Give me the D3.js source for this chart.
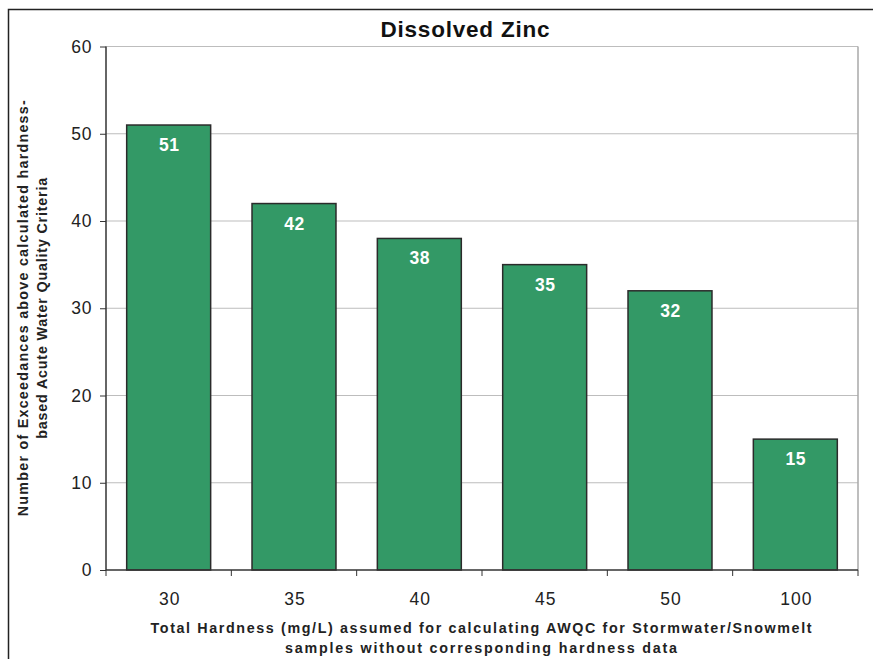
<!DOCTYPE html>
<html>
<head>
<meta charset="utf-8">
<script src="https://cdn.jsdelivr.net/npm/d3@7/dist/d3.min.js"></script>
<style>
  html, body { margin: 0; padding: 0; background: #fff; }
  svg { display: block; font-family: Arial, "Liberation Sans", sans-serif; }
</style>
</head>
<body>
<svg id="chart" width="873" height="659"></svg>
<script>
// Hardness values assumed (mg/L) and the resulting exceedance counts
const hardness = ["30", "35", "40", "45", "50", "100"];
const exceedances = [51, 42, 38, 35, 32, 15];
const yTicks = [0, 10, 20, 30, 40, 50, 60];

const titleText = "Dissolved Zinc";
const yTitleLines = ["Number of Exceedances above calculated hardness-", "based Acute Water Quality Criteria"];
const xTitleLines = ["Total Hardness (mg/L) assumed for calculating AWQC for Stormwater/Snowmelt", "samples without corresponding hardness data"];

const svg = d3.select("#chart");
const W = 873, H = 659;
const plot = { left: 106, top: 46.5, right: 858, bottom: 570 };

// outer frame
svg.append("rect")
  .attr("x", 8.5).attr("y", 9.5)
  .attr("width", W).attr("height", H)
  .attr("fill", "none").attr("stroke", "#222").attr("stroke-width", 1.5);

const x = d3.scaleBand()
  .domain(hardness)
  .range([plot.left, plot.right])
  .paddingInner(0.33)
  .paddingOuter(0.165);

const y = d3.scaleLinear()
  .domain([0, 60])
  .range([plot.bottom, plot.top]);

// gridlines
svg.append("g")
  .selectAll("line")
  .data(yTicks.filter(d => d > 0))
  .join("line")
  .attr("x1", plot.left).attr("x2", plot.right)
  .attr("y1", d => y(d)).attr("y2", d => y(d))
  .attr("stroke", "#bdbdbd").attr("stroke-width", 1);

// right border of plot area
svg.append("line")
  .attr("x1", plot.right).attr("x2", plot.right)
  .attr("y1", plot.top).attr("y2", plot.bottom)
  .attr("stroke", "#a8a8a8").attr("stroke-width", 1.5);

const rows = hardness.map((h, i) => ({ h, v: exceedances[i] }));

// bars
svg.append("g")
  .selectAll("rect")
  .data(rows)
  .join("rect")
  .attr("x", d => x(d.h))
  .attr("y", d => y(d.v))
  .attr("width", x.bandwidth())
  .attr("height", d => y(0) - y(d.v))
  .attr("fill", "#339966")
  .attr("stroke", "#2b2b2b")
  .attr("stroke-width", 1.5);

// value labels
svg.append("g")
  .selectAll("text")
  .data(rows)
  .join("text")
  .attr("x", d => x(d.h) + x.bandwidth() / 2 + 0.5)
  .attr("y", d => y(d.v) + 26)
  .attr("text-anchor", "middle")
  .attr("fill", "#fff")
  .attr("font-weight", "bold")
  .attr("font-size", 17.5)
  .attr("letter-spacing", 0.5)
  .text(d => d.v);

// y axis
const yAxis = svg.append("g")
  .attr("transform", `translate(${plot.left},0)`)
  .call(d3.axisLeft(y).tickValues(yTicks).tickSize(6).tickPadding(8));
yAxis.select(".domain").attr("stroke", "#333").attr("stroke-width", 1.5).attr("d", `M0,${plot.top}V${plot.bottom}`);
yAxis.selectAll(".tick line").attr("stroke", "#333");
yAxis.selectAll(".tick text")
  .attr("font-size", 17.5).attr("fill", "#222")
  .attr("letter-spacing", 0.6)
  .attr("font-family", "Arial, 'Liberation Sans', sans-serif");

// x axis: ticks at category boundaries
const xAxis = svg.append("g")
  .attr("transform", `translate(0,${plot.bottom})`);
xAxis.append("line")
  .attr("x1", plot.left).attr("x2", plot.right)
  .attr("stroke", "#333").attr("stroke-width", 1.5);
const boundaries = d3.range(hardness.length + 1).map(i => plot.left + i * (plot.right - plot.left) / hardness.length);
xAxis.selectAll("line.tk")
  .data(boundaries)
  .join("line")
  .attr("class", "tk")
  .attr("x1", d => d).attr("x2", d => d)
  .attr("y1", 0).attr("y2", 6)
  .attr("stroke", "#333").attr("stroke-width", 1);
xAxis.selectAll("text")
  .data(hardness)
  .join("text")
  .attr("x", d => x(d) + x.bandwidth() / 2 + 1)
  .attr("y", 35)
  .attr("text-anchor", "middle")
  .attr("font-size", 17.5)
  .attr("letter-spacing", 1)
  .attr("fill", "#222")
  .text(d => d);

// title
svg.append("text")
  .attr("x", 465).attr("y", 37)
  .attr("text-anchor", "middle")
  .attr("font-size", 22.5)
  .attr("font-weight", "bold")
  .attr("fill", "#111")
  .attr("textLength", 169)
  .attr("lengthAdjust", "spacing")
  .text(titleText);

// x axis title
const xTitleWidths = [661, 392];
svg.append("g").selectAll("text")
  .data(xTitleLines)
  .join("text")
  .attr("x", 481)
  .attr("y", (d, i) => 633 + i * 20)
  .attr("text-anchor", "middle")
  .attr("font-size", 14.3)
  .attr("font-weight", "bold")
  .attr("textLength", (d, i) => xTitleWidths[i])
  .attr("lengthAdjust", "spacing")
  .attr("fill", "#222")
  .text(d => d);

// y axis title
const yTitleWidths = [416, 261];
svg.append("g")
  .attr("transform", `translate(0,${(plot.top + plot.bottom) / 2}) rotate(-90)`)
  .selectAll("text")
  .data(yTitleLines)
  .join("text")
  .attr("x", 0)
  .attr("y", (d, i) => 28 + i * 19)
  .attr("text-anchor", "middle")
  .attr("font-size", 14.3)
  .attr("font-weight", "bold")
  .attr("textLength", (d, i) => yTitleWidths[i])
  .attr("lengthAdjust", "spacing")
  .attr("fill", "#222")
  .text(d => d);
</script>
</body>
</html>
